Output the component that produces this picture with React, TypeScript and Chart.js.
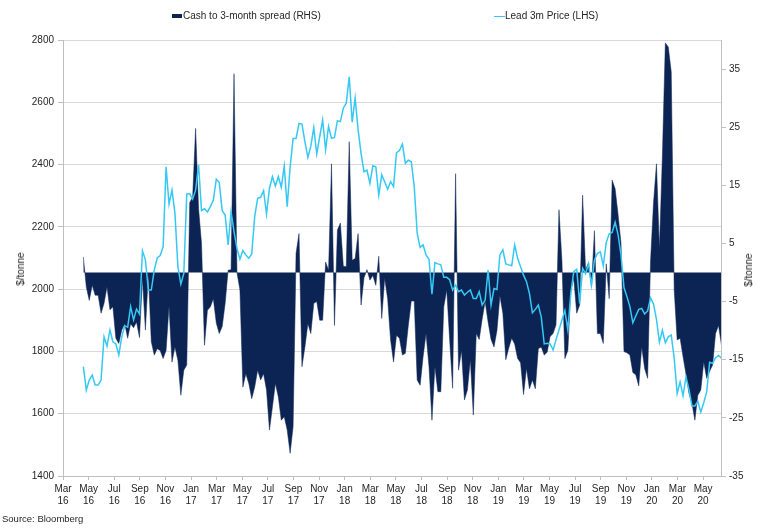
import { useEffect, useRef } from "react";
import { Chart, registerables } from "chart.js";

Chart.register(...registerables);

// First weekly observation, in months after 1 Mar 2016, and weekly step in months
const firstWeekMonth = 1.59;
const monthsPerWeek = 12 / 52;

// Lead 3m Price (LHS), $/tonne, weekly
const leadPrice: number[] = [
  1751, 1676, 1708, 1724, 1692, 1692, 1708, 1847, 1817, 1869, 1831, 1824, 1789, 1847, 1882, 1878, 1944, 1901, 1936, 1920,
  2123, 2094, 1997, 1997, 2061, 2100, 2108, 2136, 2393, 2273, 2318, 2244, 2072, 2016, 2050, 2305, 2307, 2289, 2318, 2399,
  2252, 2258, 2248,
  2265, 2286, 2353, 2342, 2252, 2238, 2142, 2249, 2185, 2131, 2096, 2124, 2110, 2099, 2113, 2233, 2292, 2295, 2316, 2241,
  2324, 2361, 2331, 2361, 2327, 2395, 2265, 2393, 2484, 2484, 2532, 2530, 2473, 2423, 2459, 2519, 2434, 2489, 2543, 2448,
  2523, 2484, 2487, 2541,
  2538, 2581, 2597, 2682, 2536, 2614, 2512, 2436, 2377, 2382, 2340, 2396, 2393, 2302, 2367, 2345, 2321, 2345, 2329, 2438,
  2445, 2466, 2404, 2414, 2409, 2329, 2179, 2134, 2142, 2110, 2096, 1984, 2085, 2081, 2078, 2038, 2038, 2030, 1997, 2013,
  1992, 1997, 1981, 1990,
  1997, 1970, 1970, 1992, 1949, 1965, 2061, 1949, 2002, 1999, 2110, 2126, 2081, 2078, 2075, 2142, 2099, 2072, 2045, 2024,
  1986, 1924, 1935, 1949, 1911, 1824, 1826, 1824, 1805, 1838, 1869, 1901, 1931, 1869, 1986, 2056, 2064, 1954, 2067, 2050,
  2081, 2013, 2094, 2115, 2120,
  2075, 2150, 2178, 2182, 2215, 2175, 2110, 2005, 1976, 1944, 1892, 1914, 1935, 1938, 1920, 1930, 1972, 1952, 1903, 1830,
  1868, 1828, 1847, 1853, 1778, 1665, 1702, 1658, 1718, 1678, 1625, 1625, 1640, 1605, 1635, 1670, 1765, 1762, 1780, 1787,
  1778,
];

// Cash to 3-month spread (RHS), $/tonne, weekly
const cashSpread: number[] = [
  2.7, -2.5, -4.8, -2.2, -3.9, -3.9, -7, -5.3, -2.5, -6.4, -5.9, -11.3, -12.2, -9.9, -8.8, -11.3, -8.8, -9.5, -8.5, -11.2,
  -1.0, -9.9, -0.2, -11.9, -14.2, -13.1, -13.4, -14.8, -13.4, -5.8, -15.4, -12.8, -15.1, -21.1, -16.8, -15.9, 12, 13, 24.8, 11,
  5, -12.5, -6.5,
  -5.9, -4.5, -8.7, -10.5, -9.3, -5.3, 0.4, 0.5, 34.2, 0, -3.0, -19.7, -17.4, -19.1, -21.7, -19.7, -16.8, -18.5, -17.4, -20.2,
  -27.1, -23.1, -19.1, -21.4, -25.4, -24.8, -27.1, -31.1, -26.5, 3.3, 6.7, -16.2, -12.8, -8.8, -10.5, -5.3, -5.0, -8.2, -8.2, 1.8,
  0.4, 18.7, -9.1, 7.3,
  8.5, 1.1, 1.0, 22.5, 2.1, 2.4, 6.7, -5.6, -0.9, 0.5, -1.3, -0.5, -2.2, 2.8, -7.9, -1.0, -4.5, -11.6, -15.4, -10.8,
  -11.3, -14.2, -13.9, -9.1, -4.9, -4.9, -18.5, -19.4, -14.5, -10.5, -16.2, -25.4, -16.2, -20.5, -20.5, -5.9, -3.0, -11.6, -19.9, 17.0,
  -16.8, -13.4, -21.9, -20.2,
  -15, -24.5, -10.5, -11.5, -8, -5, -8.5, -11.5, -12.8, -10, -4, -7, -15, -13, -11.3, -12.3, -14.8, -15.5, -21, -16.5,
  -20, -18.5, -20, -13.1, -12.8, -14.2, -13.7, -11, -10.5, -9, 10.8, 2, -14.8, -13.4, -3, -1, -7, -5.6, 13.3, 0.5,
  1.7, -2.5, 7.2, -10.5, -10.5,
  -12.2, 1.5, -4.5, 15.9, 14.4, 10, 5, -13.6, -13.8, -14.2, -17.2, -17.6, -19.5, -12.8, -16.5, -18.2, 2, 12, 18.7, 4.1,
  20, 39.5, 38.8, 34.5, -3, -11.6, -11.3, -14.5, -17.5, -20.8, -22.5, -25.4, -21.1, -20.2, -15.4, -18.2, -17, -15.9, -10.5, -9.1,
  -12.5,
];

// X tick labels, every two months from Mar 2016
const xTickLabels: string[][] = [
  ["Mar", "16"], ["May", "16"], ["Jul", "16"], ["Sep", "16"], ["Nov", "16"],
  ["Jan", "17"], ["Mar", "17"], ["May", "17"], ["Jul", "17"], ["Sep", "17"], ["Nov", "17"],
  ["Jan", "18"], ["Mar", "18"], ["May", "18"], ["Jul", "18"], ["Sep", "18"], ["Nov", "18"],
  ["Jan", "19"], ["Mar", "19"], ["May", "19"], ["Jul", "19"], ["Sep", "19"], ["Nov", "19"],
  ["Jan", "20"], ["Mar", "20"], ["May", "20"],
];
const xTickStepMonths = 2;
const xMaxMonths = 51.4;

const leftMin = 1400;
const leftMax = 2800;
const leftStep = 200;
const rightMin = -35;
const rightMax = 40;
const rightTicks = [-35, -25, -15, -5, 5, 15, 25, 35];

const NAVY = "#0c2454";
const CYAN = "#35c8f4";
const TEXT = "#262626";
const AXIS = "#bfbfbf";
const GRID = "#d9d9d9";
const FONT = "'Liberation Sans', Arial, Helvetica, sans-serif";

export default function App() {
  const canvasRef = useRef<HTMLCanvasElement | null>(null);

  useEffect(() => {
    document.body.style.margin = "0";
    const canvas = canvasRef.current;
    if (!canvas) return;

    const priceData = leadPrice.map((v, i) => ({ x: firstWeekMonth + i * monthsPerWeek, y: v }));
    const spreadData = cashSpread.map((v, i) => ({ x: firstWeekMonth + i * monthsPerWeek, y: v }));

    const tickFont = { family: FONT, size: 10, lineHeight: 1.2 };

    const chart = new Chart(canvas, {
      type: "line",
      data: {
        datasets: [
          {
            label: "Lead 3m Price (LHS)",
            data: priceData,
            yAxisID: "y",
            borderColor: CYAN,
            borderWidth: 1.5,
            pointRadius: 0,
            fill: false,
            tension: 0,
            order: 0,
          },
          {
            label: "Cash to 3-month spread (RHS)",
            data: spreadData,
            yAxisID: "y1",
            borderColor: NAVY,
            backgroundColor: NAVY,
            borderWidth: 0.5,
            pointRadius: 0,
            fill: "origin",
            tension: 0,
            order: 1,
          },
        ],
      },
      options: {
        animation: false,
        responsive: false,
        events: [],
        layout: { padding: { top: 40, left: 0, right: 0, bottom: 0 } },
        plugins: {
          legend: { display: false },
          tooltip: { enabled: false },
        },
        scales: {
          x: {
            type: "linear",
            min: 0,
            max: xMaxMonths,
            afterBuildTicks: (s: any) => {
              s.ticks = xTickLabels.map((_, i) => ({ value: i * xTickStepMonths }));
            },
            afterFit: (s: any) => {
              s.height = 55;
            },
            ticks: {
              autoSkip: false,
              maxRotation: 0,
              minRotation: 0,
              padding: 3,
              color: TEXT,
              font: tickFont,
              callback: (_v: any, i: number) => xTickLabels[i],
            },
            grid: { drawOnChartArea: false, drawTicks: true, tickLength: 4, color: AXIS },
            border: { display: true, color: AXIS },
          },
          y: {
            position: "left",
            min: leftMin,
            max: leftMax,
            afterFit: (s: any) => {
              s.width = 63;
            },
            ticks: {
              stepSize: leftStep,
              padding: 4,
              color: TEXT,
              font: tickFont,
              callback: (v: any) => String(v),
            },
            grid: { color: GRID, tickColor: AXIS, tickLength: 5 },
            border: { display: true, color: AXIS },
          },
          y1: {
            position: "right",
            min: rightMin,
            max: rightMax,
            afterBuildTicks: (s: any) => {
              s.ticks = rightTicks.map((v) => ({ value: v }));
            },
            afterFit: (s: any) => {
              s.width = 49;
            },
            ticks: { padding: 3, color: TEXT, font: tickFont, callback: (v: any) => String(v) },
            grid: { drawOnChartArea: false, color: AXIS, tickLength: 5 },
            border: { display: true, color: AXIS },
          },
        },
      } as any,
    });

    return () => {
      chart.destroy();
    };
  }, []);

  const textStyle: React.CSSProperties = {
    position: "absolute",
    fontFamily: FONT,
    fontSize: 10,
    lineHeight: "12px",
    color: TEXT,
    whiteSpace: "nowrap",
  };

  return (
    <div style={{ position: "relative", width: 770, height: 531, background: "#fff", overflow: "hidden" }}>
      <canvas ref={canvasRef} width={770} height={531} style={{ display: "block", width: 770, height: 531 }} />
      {/* Legend */}
      <div style={{ position: "absolute", left: 172, top: 14, width: 10, height: 4, background: NAVY }} />
      <div style={{ ...textStyle, left: 183, top: 10 }}>Cash to 3-month spread (RHS)</div>
      <div style={{ position: "absolute", left: 494, top: 15.5, width: 11, height: 1.5, background: CYAN }} />
      <div style={{ ...textStyle, left: 505, top: 10 }}>Lead 3m Price (LHS)</div>
      {/* Axis titles */}
      <div style={{ ...textStyle, left: 21, top: 269, transform: "translate(-50%, -50%) rotate(-90deg)" }}>$/tonne</div>
      <div style={{ ...textStyle, left: 749, top: 270, transform: "translate(-50%, -50%) rotate(-90deg)" }}>$/tonne</div>
      {/* Source */}
      <div style={{ ...textStyle, fontSize: 9.5, left: 2, top: 513 }}>Source: Bloomberg</div>
    </div>
  );
}
